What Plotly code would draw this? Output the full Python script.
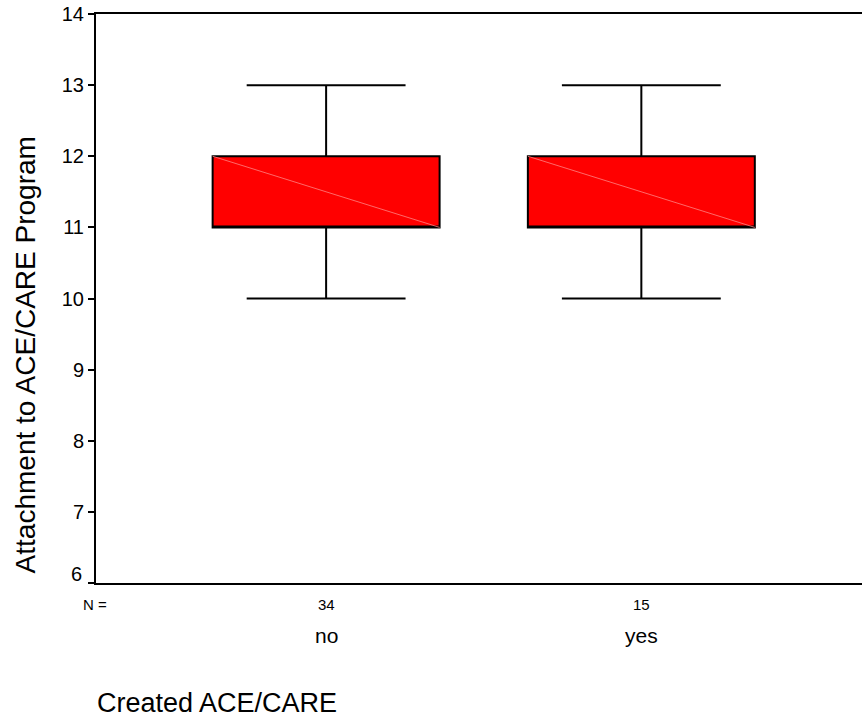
import plotly.graph_objects as go

categories = ["no", "yes"]
counts = [34, 15]
q1 = [11, 11]
median = [11, 11]
q3 = [12, 12]
lower_whisker = [10, 10]
upper_whisker = [13, 13]
y_ticks = [6, 7, 8, 9, 10, 11, 12, 13, 14]

FONT = "Liberation Sans, Arial, sans-serif"
BOX_W = 0.72
xpos = list(range(len(categories)))

fig = go.Figure()
fig.add_trace(go.Box(
    x=xpos, q1=q1, median=median, q3=q3,
    lowerfence=lower_whisker, upperfence=upper_whisker,
    width=BOX_W, whiskerwidth=0.7,
    fillcolor="#ff0000", line=dict(color="black", width=2),
    boxpoints=False, showlegend=False, hoverinfo="skip",
))
# faint diagonal rendering artefact inside boxes
for i in xpos:
    fig.add_trace(go.Scatter(
        x=[i - BOX_W / 2, i + BOX_W / 2], y=[q3[i], q1[i]], mode="lines",
        line=dict(color="rgba(255,130,130,0.8)", width=1),
        showlegend=False, hoverinfo="skip",
    ))

fig.update_layout(
    width=862, height=721,
    margin=dict(l=96, r=0, t=14, b=138),
    paper_bgcolor="white", plot_bgcolor="white",
    font=dict(family=FONT, color="black"),
    xaxis=dict(range=[-0.73, 1.70], showticklabels=False, ticks="",
               showgrid=False, zeroline=False, showline=True,
               linecolor="black", linewidth=2, mirror=True),
    yaxis=dict(range=[6, 14], tickvals=y_ticks,
               ticktext=["" if v == 6 else str(v) for v in y_ticks],
               ticks="outside", ticklen=6, tickwidth=2, tickcolor="black",
               tickfont=dict(size=20, family=FONT),
               showgrid=False, zeroline=False, showline=True,
               linecolor="black", linewidth=2, mirror=False),
)

ann = []
ann.append(dict(text="6", xref="paper", yref="y", x=0, y=6, xanchor="right",
                yanchor="middle", xshift=-12, yshift=9, showarrow=False,
                font=dict(size=20, family=FONT)))
ann.append(dict(text="N =", xref="paper", yref="paper", x=0, y=0,
                xanchor="center", yanchor="middle", xshift=-1, yshift=-21,
                showarrow=False, font=dict(size=15, family=FONT)))
for i, (c, n) in enumerate(zip(categories, counts)):
    ann.append(dict(text=str(n), xref="x", yref="paper", x=i, y=0,
                    yanchor="middle", yshift=-21, showarrow=False,
                    font=dict(size=15, family=FONT)))
    ann.append(dict(text=c, xref="x", yref="paper", x=i, y=0,
                    yanchor="middle", yshift=-52, showarrow=False,
                    font=dict(size=21, family=FONT)))
ann.append(dict(text="Attachment to ACE/CARE Program", xref="paper", yref="paper",
                x=0, y=0.40, xanchor="center", yanchor="middle", xshift=-71,
                textangle=-90, showarrow=False, font=dict(size=28, family=FONT)))
ann.append(dict(text="Created ACE/CARE", xref="paper", yref="paper",
                x=0, y=0, xanchor="left", yanchor="middle", xshift=-1, yshift=-120,
                showarrow=False, font=dict(size=27, family=FONT)))
fig.update_layout(annotations=ann)

fig.write_html("out.html")
